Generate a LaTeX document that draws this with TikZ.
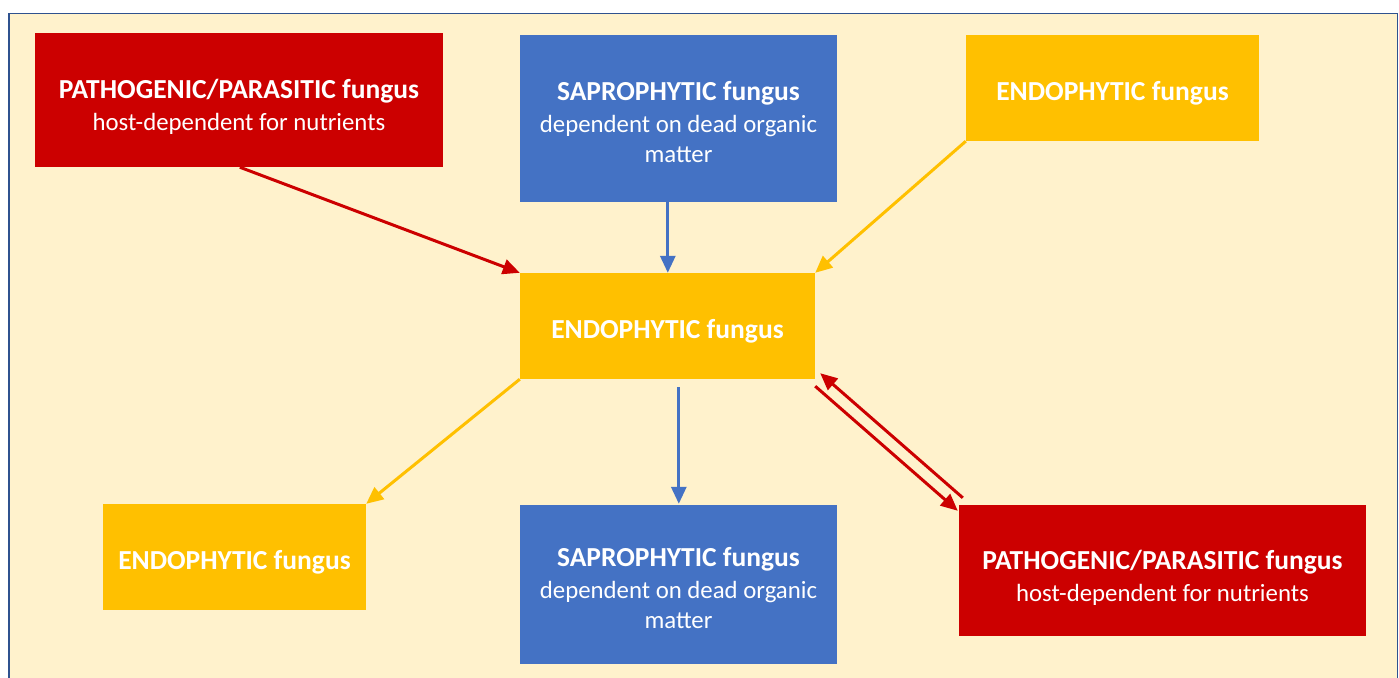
\documentclass[tikz,border=0pt]{standalone}
\usepackage{fontspec}
\setmainfont{Carlito}
\usetikzlibrary{arrows.meta,calc}
\definecolor{bgfill}{HTML}{FFF2CC}
\definecolor{frameblue}{HTML}{2F528F}
\definecolor{cred}{HTML}{CC0000}
\definecolor{cblue}{HTML}{4472C4}
\definecolor{cyellow}{HTML}{FFC000}
\newcommand\subtxt{\fontsize{24.8}{30}\selectfont}
\tikzset{
  box/.style={rectangle, inner sep=0pt},
  redbox/.style={box, fill=cred},
  bluebox/.style={box, fill=cblue},
  yellowbox/.style={box, fill=cyellow},
  boxtext/.style={inner sep=0pt, text=white, align=center,
    font=\fontsize{27.5}{31}\selectfont},
  conn/.style={line width=3pt, -{Triangle[length=17pt,width=15pt]}},
  redconn/.style={conn, draw=cred},
  blueconn/.style={conn, draw=cblue},
  yellowconn/.style={conn, draw=cyellow},
}
\begin{document}
\begin{tikzpicture}[x=1pt,y=-1pt]
\useasboundingbox (0,0) rectangle (1399,677);
\clip (0,0) rectangle (1399,677);
\fill[white] (0,0) rectangle (1399,677);
\draw[frameblue, line width=1.5pt, fill=bgfill] (9,13.5) rectangle (1397.5,720);

\node[redbox, minimum width=408pt, minimum height=134pt] (p1) at (239,100) {};
\node[boxtext] (p1t) at ($(p1.center)+(0,7)$)
  {\textbf{PATHOGENIC/PARASITIC fungus}\\[1pt]{\subtxt host-dependent for nutrients}};
\node[bluebox, minimum width=317pt, minimum height=167pt] (s1) at (678.5,118.5) {};
\node[boxtext] (s1t) at ($(s1.center)+(0,4)$)
  {\textbf{SAPROPHYTIC fungus}\\[1pt]{\subtxt dependent on dead organic}\\[-1pt]{\subtxt matter}};
\node[yellowbox, minimum width=293pt, minimum height=106pt] (e1) at (1112.5,88) {};
\node[boxtext] (e1t) at ($(e1.center)+(0,5)$) {\textbf{ENDOPHYTIC fungus}};
\node[yellowbox, minimum width=295pt, minimum height=106pt] (ec) at (667.5,326) {};
\node[boxtext] (ect) at ($(ec.center)+(0,5)$) {\textbf{ENDOPHYTIC fungus}};
\node[yellowbox, minimum width=263pt, minimum height=106pt] (e2) at (234.5,557) {};
\node[boxtext] (e2t) at ($(e2.center)+(0,5)$) {\textbf{ENDOPHYTIC fungus}};
\node[bluebox, minimum width=317pt, minimum height=159pt] (s2) at (678.5,584.5) {};
\node[boxtext] (s2t) at ($(s2.center)+(0,4)$)
  {\textbf{SAPROPHYTIC fungus}\\[1pt]{\subtxt dependent on dead organic}\\[-1pt]{\subtxt matter}};
\node[redbox, minimum width=407pt, minimum height=131pt] (p2) at (1162.5,570.5) {};
\node[boxtext] (p2t) at ($(p2.center)+(0,7)$)
  {\textbf{PATHOGENIC/PARASITIC fungus}\\[1pt]{\subtxt host-dependent for nutrients}};

\draw[redconn] ($(p1.south west)+(205,0)$) -- (ec.north west);
\draw[blueconn] ($(s1.south west)+(148,0)$) -- ($(ec.north west)+(148,0)$);
\draw[yellowconn] (e1.south west) -- (ec.north east);
\draw[yellowconn] (ec.south west) -- (e2.north east);
\draw[blueconn] ($(ec.south west)+(159,8)$) -- ($(s2.north west)+(159,-1)$);
\draw[redconn] ($(ec.south east)+(0,7)$) -- ($(p2.north west)+(-1,6)$);
\draw[redconn] ($(p2.north west)+(4,-7)$) -- ($(ec.south east)+(5,-6)$);
\end{tikzpicture}
\end{document}
